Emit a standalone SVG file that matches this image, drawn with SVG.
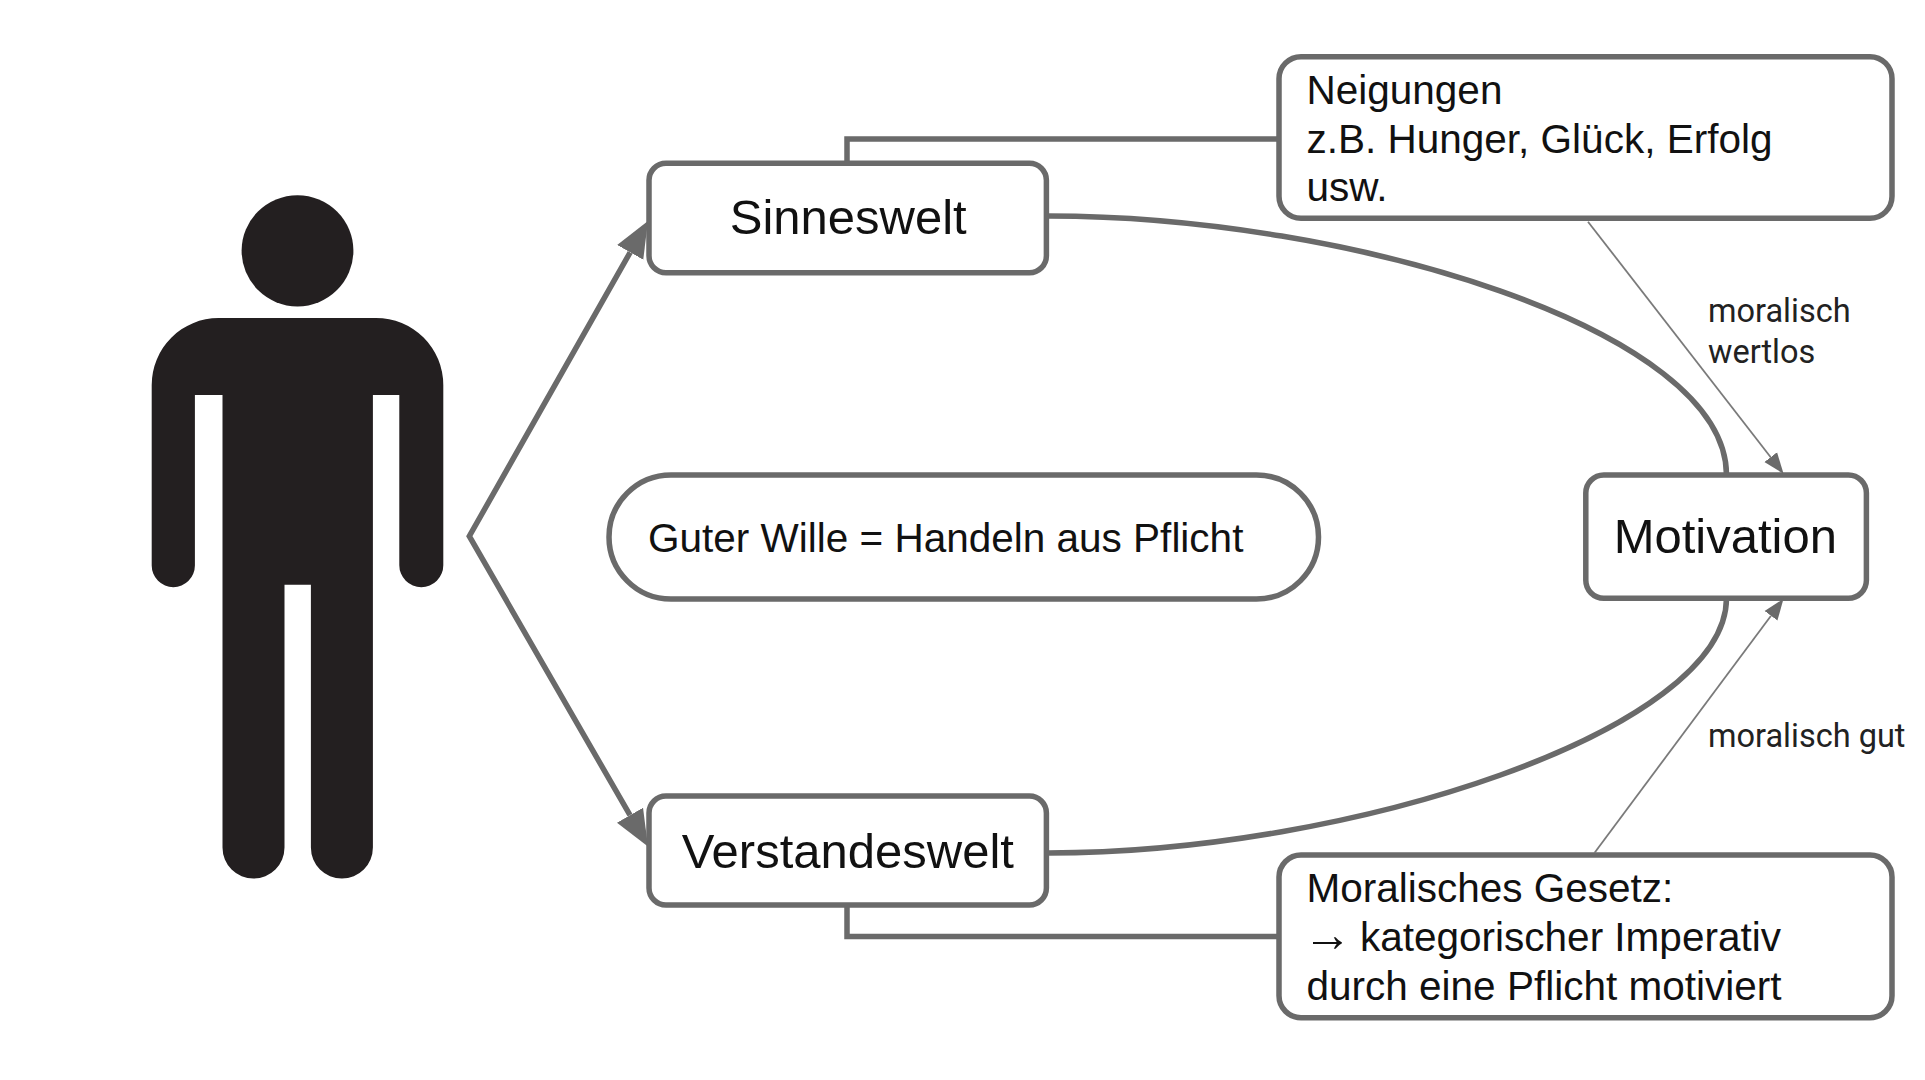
<svg xmlns="http://www.w3.org/2000/svg" width="1925" height="1080" viewBox="0 0 1925 1080">
<style>
.box{fill:#fff;stroke:#6a6a6a;stroke-width:5.5}
.thick{fill:none;stroke:#6a6a6a;stroke-width:5.5}
.thin{fill:none;stroke:#7a7a7a;stroke-width:1.8}
text{font-family:"Liberation Sans",Arial,sans-serif;fill:#111}
.big{font-size:49px;text-anchor:middle}
.mid{font-size:40.5px}
.arrow{font-size:49px}
.lab{font-family:Roboto,"Liberation Sans",sans-serif;font-size:32.5px;fill:#222}
</style>
<defs>
<marker id="headThick" markerUnits="userSpaceOnUse" markerWidth="38" markerHeight="34" refX="0" refY="17" orient="auto-start-reverse"><path d="M0 2L36 17L0 32Z" fill="#6a6a6a"/></marker>
<marker id="headThin" markerUnits="userSpaceOnUse" markerWidth="22" markerHeight="18" refX="0" refY="9" orient="auto"><path d="M0 1L21 9L0 17Z" fill="#6a6a6a"/></marker>
</defs>
<rect width="1925" height="1080" fill="#fff"/>
<g id="person">
<ellipse cx="297.5" cy="250.8" rx="55.9" ry="55.6" fill="#231f20"/>
<path fill="#231f20" d="M218.6 318H376A67.3 67 0 0 1 443.3 385V565.2A22 22 0 0 1 399.3 565.2V394.9H372.9V847.6A31 31 0 0 1 310.9 847.6V584.7H284.5V847.6A31 31 0 0 1 222.5 847.6V394.9H194.9V565.6A21.6 21.6 0 0 1 151.7 565.6V385A67 67 0 0 1 218.6 318Z"/>
</g>
<g id="sinneswelt">
<rect class="box" x="649" y="163.3" width="397.4" height="109.4" rx="17"/>
<text class="big" x="848.2" y="234.3">Sinneswelt</text>
</g>
<g id="verstandeswelt">
<rect class="box" x="649" y="796" width="397.4" height="109" rx="17"/>
<text class="big" x="847.8" y="868.3">Verstandeswelt</text>
</g>
<g id="guter-wille">
<rect class="box" x="609" y="475" width="709.5" height="124" rx="62"/>
<text class="mid" x="648" y="551.7">Guter Wille = Handeln aus Pflicht</text>
</g>
<g id="motivation">
<rect class="box" x="1585.8" y="475" width="280.6" height="123.3" rx="18"/>
<text class="big" x="1725.3" y="553.3">Motivation</text>
</g>
<g id="neigungen">
<rect class="box" x="1279" y="56.7" width="613" height="161.6" rx="22"/>
<text class="mid" x="1306.5" y="104">Neigungen</text>
<text class="mid" x="1306.5" y="152.7">z.B. Hunger, Glück, Erfolg</text>
<text class="mid" x="1306.5" y="201.2">usw.</text>
</g>
<g id="moralisches-gesetz">
<rect class="box" x="1279" y="855" width="613" height="162.7" rx="22"/>
<text class="mid" x="1306.5" y="901.7">Moralisches Gesetz:</text>
<text class="arrow" x="1303" y="951">→</text>
<text class="mid" x="1360" y="951">kategorischer Imperativ</text>
<text class="mid" x="1306.5" y="999.5">durch eine Pflicht motiviert</text>
</g>
<g id="labels">
<text class="lab" x="1708" y="322">moralisch</text>
<text class="lab" x="1708" y="362.5">wertlos</text>
<text class="lab" x="1708" y="746.5">moralisch gut</text>
</g>
<g id="connectors">
<path class="thick" d="M630.2 252.3L469.3 536.2L630 815.2" marker-start="url(#headThick)" marker-end="url(#headThick)"/>
<path class="thick" d="M847 163V139H1279"/>
<path class="thick" d="M847 905V936.5H1279"/>
<path class="thick" d="M1048.6 216C1350 216 1726.5 330 1726.5 475"/>
<path class="thick" d="M1048.6 853C1350 853 1726.5 730 1726.5 598"/>
<path class="thin" d="M1588 221.7L1770.7 457.2" marker-end="url(#headThin)"/>
<path class="thin" d="M1594.4 853L1771 615.7" marker-end="url(#headThin)"/>
</g>
</svg>
